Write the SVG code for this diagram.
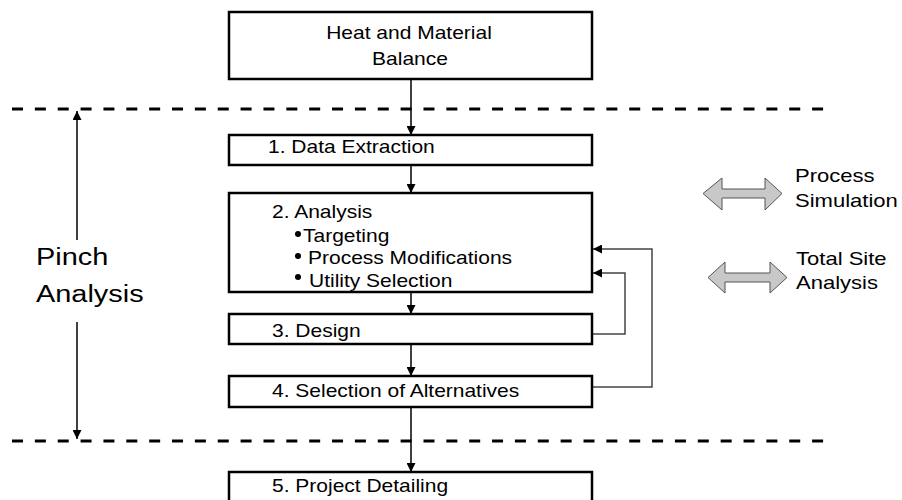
<svg xmlns="http://www.w3.org/2000/svg" width="902" height="500" viewBox="0 0 902 500">
<defs>
<style>
.box{fill:#fff;stroke:#000;stroke-width:2.5}
.t{font-family:"Liberation Sans",Arial,sans-serif;font-size:17.5px;fill:#000}
.side{font-family:"Liberation Sans",Arial,sans-serif;font-size:19px;fill:#000}
.big{font-family:"Liberation Sans",Arial,sans-serif;font-size:24.5px;fill:#000}
.dash{stroke:#000;stroke-width:3;stroke-dasharray:11 11.86;fill:none}
.c{stroke:#000;stroke-width:1.5;fill:none;marker-end:url(#ah)}
.fb{stroke:#444;stroke-width:1.5;fill:none;marker-end:url(#ah)}
.dbl{fill:#c8c8c8;stroke:#555;stroke-width:1}
</style>
<marker id="ah" viewBox="0 0 10 10" refX="10" refY="5" markerWidth="9" markerHeight="9" markerUnits="userSpaceOnUse" orient="auto">
<path d="M0,0 L10,5 L0,10 Z" fill="#000"/>
</marker>
</defs>
<rect width="902" height="500" fill="#fff"/>
<g id="separators">
<line class="dash" x1="12" y1="109" x2="825" y2="109"/>
<line class="dash" x1="12" y1="441" x2="825" y2="441"/>
</g>
<g id="connectors">
<line class="c" x1="411" y1="79" x2="411" y2="135"/>
<line class="c" x1="411" y1="165" x2="411" y2="193"/>
<line class="c" x1="411" y1="292" x2="411" y2="314"/>
<line class="c" x1="411" y1="344" x2="411" y2="376"/>
<line class="c" x1="411" y1="407" x2="411" y2="472"/>
<polyline class="fb" points="592,387 652,387 652,249 593,249"/>
<polyline class="fb" points="592,334 625,334 625,273 593,273"/>
<line class="c" x1="77" y1="240" x2="77" y2="111"/>
<line class="c" x1="77" y1="322" x2="77" y2="439"/>
</g>
<g id="heat-material">
<rect class="box" x="229" y="12" width="363" height="67"/>
<text class="t" transform="translate(409,39) scale(1.2,1)" text-anchor="middle">Heat and Material</text>
<text class="t" transform="translate(410,65) scale(1.2,1)" text-anchor="middle">Balance</text>
</g>
<g id="data-extraction">
<rect class="box" x="229" y="135" width="363" height="30"/>
<text class="t" transform="translate(268,153) scale(1.2,1)">1. Data Extraction</text>
</g>
<g id="analysis">
<rect class="box" x="229" y="193" width="363" height="99"/>
<text class="t" transform="translate(272,218) scale(1.2,1)">2. Analysis</text>
<circle cx="298" cy="234" r="3"/>
<text class="t" transform="translate(303,242) scale(1.2,1)">Targeting</text>
<circle cx="298" cy="256" r="3"/>
<text class="t" transform="translate(308,264) scale(1.2,1)">Process Modifications</text>
<circle cx="298" cy="277" r="3"/>
<text class="t" transform="translate(309,287) scale(1.2,1)">Utility Selection</text>
</g>
<g id="design">
<rect class="box" x="229" y="314" width="363" height="30"/>
<text class="t" transform="translate(272,337) scale(1.2,1)">3. Design</text>
</g>
<g id="selection">
<rect class="box" x="229" y="376" width="363" height="31"/>
<text class="t" transform="translate(272,397) scale(1.2,1)">4. Selection of Alternatives</text>
</g>
<g id="project-detailing">
<rect class="box" x="229" y="472" width="363" height="40"/>
<text class="t" transform="translate(272,492) scale(1.2,1)">5. Project Detailing</text>
</g>
<g id="pinch-label">
<text class="big" transform="translate(36,265) scale(1.18,1)">Pinch</text>
<text class="big" transform="translate(36,302) scale(1.18,1)">Analysis</text>
</g>
<g id="process-simulation">
<polygon class="dbl" points="703,193.5 722,178 722,189 765,189 765,178 782,193.5 765,210 765,198 722,198 722,210"/>
<text class="side" transform="translate(795,182) scale(1.16,1)">Process</text>
<text class="side" transform="translate(795,207) scale(1.16,1)">Simulation</text>
</g>
<g id="total-site">
<polygon class="dbl" points="708,277.5 725,262 725,273 770,273 770,262 787,277.5 770,293 770,282 725,282 725,293"/>
<text class="side" transform="translate(796,265) scale(1.16,1)">Total Site</text>
<text class="side" transform="translate(796,289) scale(1.16,1)">Analysis</text>
</g>
</svg>
